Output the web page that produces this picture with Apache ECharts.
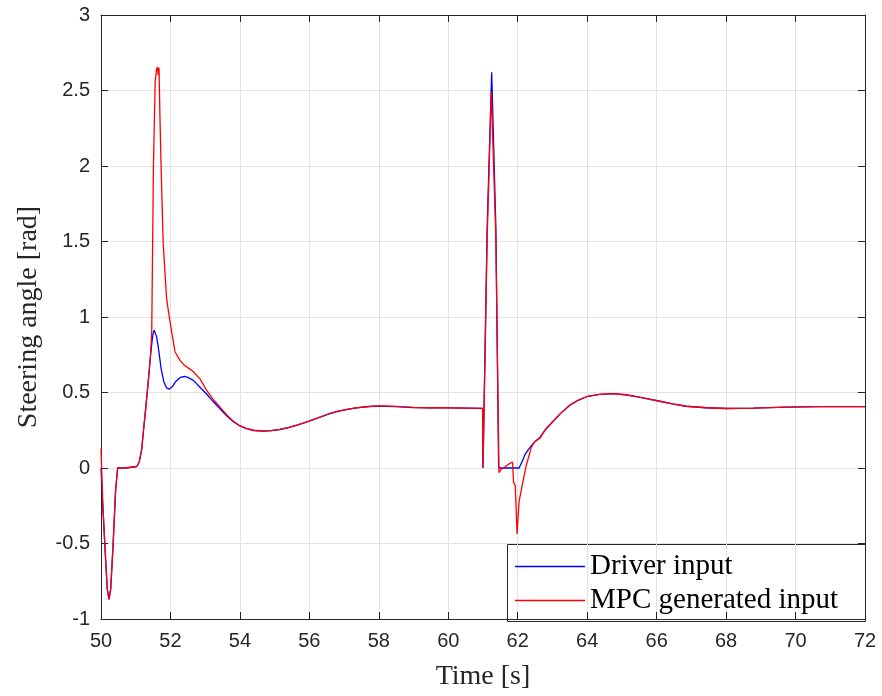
<!DOCTYPE html>
<html>
<head>
<meta charset="utf-8">
<script src="https://cdn.jsdelivr.net/npm/echarts@6/dist/echarts.min.js"></script>
<style>html,body{margin:0;padding:0;background:#fff;}#c{width:882px;height:696px;}</style>
</head>
<body>
<div id="c"></div>
<script>
// ---- data ----
const xTicks = [50, 52, 54, 56, 58, 60, 62, 64, 66, 68, 70, 72];
const yTicks = [-1, -0.5, 0, 0.5, 1, 1.5, 2, 2.5, 3];

const driverT = [50.00, 50.05, 50.12, 50.18, 50.23, 50.28, 50.35, 50.42, 50.48, 50.70, 51.03, 51.10, 51.17, 51.22, 51.29, 51.36, 51.42, 51.47, 51.50, 51.53, 51.56, 51.60, 51.65, 51.73, 51.81, 51.89, 51.97, 52.06, 52.16, 52.28, 52.41, 52.50, 52.66, 52.85, 53.04, 53.23, 53.42, 53.61, 53.81, 54.00, 54.19, 54.40, 54.67, 54.90, 55.15, 55.40, 55.63, 55.87, 56.11, 56.35, 56.59, 56.83, 57.07, 57.30, 57.55, 57.80, 58.03, 58.51, 58.99, 59.47, 59.95, 60.50, 60.99, 61.00, 61.02, 61.12, 61.25, 61.37, 61.45, 61.50, 62.04, 62.12, 62.20, 62.30, 62.40, 62.50, 62.63, 62.80, 63.02, 63.25, 63.50, 63.75, 63.98, 64.35, 64.74, 65.10, 65.42, 65.75, 66.09, 66.45, 66.85, 67.43, 68.01, 68.78, 69.73, 70.69, 72.00];
const driverV = [0.00, -0.25, -0.55, -0.80, -0.87, -0.80, -0.50, -0.15, 0.00, 0.00, 0.01, 0.04, 0.12, 0.24, 0.40, 0.57, 0.73, 0.84, 0.89, 0.913, 0.905, 0.87, 0.80, 0.66, 0.57, 0.53, 0.523, 0.54, 0.575, 0.60, 0.606, 0.60, 0.58, 0.535, 0.49, 0.44, 0.394, 0.348, 0.306, 0.278, 0.26, 0.248, 0.244, 0.248, 0.255, 0.268, 0.283, 0.30, 0.32, 0.34, 0.36, 0.375, 0.387, 0.396, 0.403, 0.408, 0.41, 0.407, 0.40, 0.398, 0.398, 0.396, 0.394, 0.00, 0.00, 1.60, 2.62, 1.60, 0.00, 0.00, 0.00, 0.04, 0.085, 0.12, 0.15, 0.175, 0.20, 0.255, 0.31, 0.365, 0.416, 0.450, 0.472, 0.488, 0.493, 0.485, 0.472, 0.458, 0.442, 0.425, 0.409, 0.399, 0.394, 0.396, 0.403, 0.407, 0.407];

const mpcT = [50.00, 50.05, 50.12, 50.18, 50.23, 50.28, 50.35, 50.42, 50.48, 50.70, 51.03, 51.10, 51.17, 51.22, 51.29, 51.36, 51.42, 51.46, 51.51, 51.56, 51.60, 51.63, 51.65, 51.67, 51.70, 51.73, 51.79, 51.89, 51.96, 52.05, 52.13, 52.27, 52.40, 52.56, 52.66, 52.85, 53.04, 53.23, 53.42, 53.61, 53.81, 54.00, 54.19, 54.40, 54.67, 54.90, 55.15, 55.40, 55.63, 55.87, 56.11, 56.35, 56.59, 56.83, 57.07, 57.30, 57.55, 57.80, 58.03, 58.51, 58.99, 59.47, 59.95, 60.50, 60.99, 61.00, 61.02, 61.12, 61.24, 61.37, 61.46, 61.52, 61.58, 61.75, 61.85, 61.88, 61.93, 61.98, 62.04, 62.15, 62.25, 62.39, 62.49, 62.63, 62.80, 63.02, 63.25, 63.50, 63.75, 63.98, 64.35, 64.74, 65.10, 65.42, 65.75, 66.09, 66.45, 66.85, 67.43, 68.01, 68.78, 69.73, 70.69, 72.00];
const mpcV = [0.128, -0.22, -0.55, -0.80, -0.87, -0.80, -0.50, -0.15, 0.00, 0.00, 0.01, 0.04, 0.12, 0.24, 0.40, 0.57, 0.73, 0.89, 2.00, 2.557, 2.64, 2.655, 2.60, 2.65, 2.30, 2.00, 1.49, 1.12, 1.01, 0.88, 0.77, 0.714, 0.68, 0.655, 0.637, 0.59, 0.515, 0.455, 0.405, 0.355, 0.31, 0.28, 0.262, 0.25, 0.245, 0.248, 0.256, 0.269, 0.284, 0.301, 0.321, 0.341, 0.361, 0.376, 0.388, 0.397, 0.404, 0.409, 0.411, 0.408, 0.401, 0.399, 0.399, 0.397, 0.395, 0.00, 0.00, 1.52, 2.49, 1.52, -0.03, -0.01, 0.00, 0.027, 0.04, -0.095, -0.117, -0.437, -0.22, -0.09, 0.02, 0.137, 0.175, 0.195, 0.255, 0.31, 0.365, 0.416, 0.450, 0.472, 0.488, 0.493, 0.485, 0.472, 0.458, 0.442, 0.425, 0.409, 0.399, 0.394, 0.396, 0.403, 0.407, 0.407];

const seriesNames = ['Driver input', 'MPC generated input'];

// ---- chart ----
const zip = (t, v) => t.map((x, i) => [x, v[i]]);
const chart = echarts.init(document.getElementById('c'), null, {renderer: 'canvas'});
const axisCol = '#262626';
const gridCol = '#e3e3e3';
const tickFont = {color: axisCol, fontFamily: 'Liberation Sans, Arial, sans-serif', fontSize: 20};
const serif = 'Liberation Serif, Times New Roman, serif';

const baseX = {
  type: 'value', min: xTicks[0], max: xTicks[xTicks.length - 1], interval: xTicks[1] - xTicks[0],
  axisLine: {show: true, onZero: false, lineStyle: {color: axisCol, width: 1}},
  axisTick: {show: true, inside: true, length: 7, lineStyle: {color: axisCol}},
  splitLine: {show: false}
};
const baseY = {
  type: 'value', min: yTicks[0], max: yTicks[yTicks.length - 1], interval: yTicks[1] - yTicks[0],
  axisLine: {show: true, onZero: false, lineStyle: {color: axisCol, width: 1}},
  axisTick: {show: true, inside: true, length: 7, lineStyle: {color: axisCol}},
  splitLine: {show: false}
};

chart.setOption({
  animation: false,
  backgroundColor: '#ffffff',
  grid: {left: 101, right: 17, top: 15, bottom: 75, show: false},
  xAxis: [
    Object.assign({}, baseX, {
      position: 'bottom',
      name: 'Time [s]', nameLocation: 'middle', nameGap: 44,
      nameTextStyle: {color: axisCol, fontFamily: serif, fontSize: 28},
      axisLabel: Object.assign({margin: 12}, tickFont),
      splitLine: {show: true, lineStyle: {color: gridCol, width: 1}}
    }),
    Object.assign({}, baseX, {position: 'top', axisLabel: {show: false}})
  ],
  yAxis: [
    Object.assign({}, baseY, {
      position: 'left',
      name: 'Steering angle [rad]', nameLocation: 'middle', nameGap: 58, nameRotate: 90,
      nameTextStyle: {color: axisCol, fontFamily: serif, fontSize: 28},
      axisLabel: Object.assign({margin: 11}, tickFont),
      splitLine: {show: true, lineStyle: {color: gridCol, width: 1}}
    }),
    Object.assign({}, baseY, {position: 'right', axisLabel: {show: false}})
  ],
  legend: {
    orient: 'vertical', left: 510, top: 547,
    icon: 'rect', itemWidth: 70, itemHeight: 1.4, itemGap: 5,
    textStyle: {color: '#000', fontFamily: serif, fontSize: 29},
    data: seriesNames
  },
  graphic: [{
    type: 'rect', z: 0, silent: true,
    shape: {x: 507.5, y: 544.5, width: 358, height: 77},
    style: {fill: '#fff', stroke: axisCol, lineWidth: 1}
  }],
  series: [
    {name: seriesNames[0], type: 'line', data: zip(driverT, driverV), symbol: 'none', showSymbol: false,
     lineStyle: {color: '#0000ff', width: 1.3}, itemStyle: {color: '#0000ff'}, z: 2},
    {name: seriesNames[1], type: 'line', data: zip(mpcT, mpcV), symbol: 'none', showSymbol: false,
     lineStyle: {color: '#ff0000', width: 1.3}, itemStyle: {color: '#ff0000'}, z: 3}
  ]
});
</script>
</body>
</html>
